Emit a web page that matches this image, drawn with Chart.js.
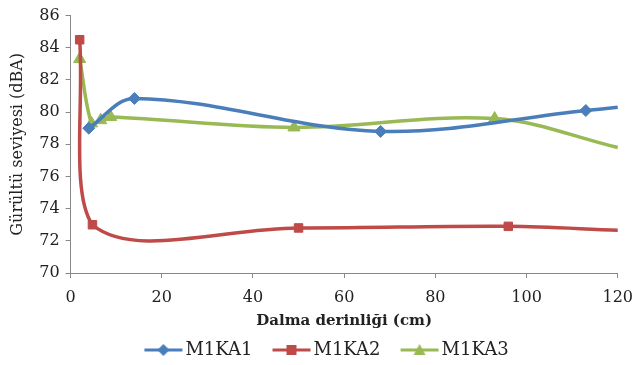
<!DOCTYPE html>
<html>
<head>
<meta charset="utf-8">
<script src="https://cdn.jsdelivr.net/npm/chart.js@4.4.0/dist/chart.umd.min.js"></script>
<style>
  html, body { margin: 0; padding: 0; background: #fff; overflow: hidden; }
  #wrap { width: 633px; height: 365px; position: relative; }
</style>
</head>
<body>
<div id="wrap"><canvas id="noiseChart"></canvas></div>
<script>
// Dalma derinliği (cm) ve gürültü seviyesi (dBA) değerleri
const seriesNames = ['M1KA1', 'M1KA2', 'M1KA3'];

const depthKA1 = [4, 14, 68, 113, 120];
const noiseKA1 = [79.0, 80.85, 78.8, 80.1, 80.3];

const depthKA2 = [2, 4.8, 50, 96, 120];
const noiseKA2 = [84.5, 73.0, 72.8, 72.9, 72.65];

const depthKA3 = [2, 4.6, 6.6, 8.8, 49, 93, 120];
const noiseKA3 = [83.3, 79.3, 79.5, 79.7, 79.05, 79.6, 77.8];

const xTicks = [0, 20, 40, 60, 80, 100, 120];
const yTicks = [70, 72, 74, 76, 78, 80, 82, 84, 86];

const colors = ['#4A7EBB', '#BE4B48', '#98B954'];
const markers = ['rectRot', 'rect', 'triangle'];

function toPoints(xs, ys) {
    return xs.map((x, i) => ({ x: x, y: ys[i] }));
}

// Son noktada işaretçi yok (çizgi sadece uzanıyor)
function radii(n, r) {
    const arr = [];
    for (let i = 0; i < n; i++) arr.push(i === n - 1 ? 0 : r);
    return arr;
}

// Lejant için çizgi + işaretçi görseli (solda boşluk bırakılır)
function legendIcon(color, style) {
    const c = document.createElement('canvas');
    c.width = 74; c.height = 14;
    const g = c.getContext('2d');
    g.strokeStyle = color;
    g.lineWidth = 3;
    g.beginPath(); g.moveTo(31, 7); g.lineTo(69, 7); g.stroke();
    g.fillStyle = color;
    g.beginPath();
    const m = 50;
    if (style === 'rectRot') {
        g.moveTo(m, 1); g.lineTo(m + 6, 7); g.lineTo(m, 13); g.lineTo(m - 6, 7);
    } else if (style === 'rect') {
        g.rect(m - 5, 2, 10, 10);
    } else {
        g.moveTo(m, 1); g.lineTo(m + 6, 12); g.lineTo(m - 6, 12);
    }
    g.closePath(); g.fill();
    return c;
}

const data = [
    toPoints(depthKA1, noiseKA1),
    toPoints(depthKA2, noiseKA2),
    toPoints(depthKA3, noiseKA3)
];
const sizes = [6, 6, 7];

const datasets = data.map((d, i) => ({
    label: seriesNames[i],
    data: d,
    borderColor: colors[i],
    backgroundColor: colors[i],
    borderWidth: 3.5,
    pointStyle: markers[i],
    pointRadius: radii(d.length, sizes[i]),
    pointHoverRadius: radii(d.length, sizes[i]),
    pointBorderWidth: 1,
    tension: 0.35,
    showLine: true,
    clip: false
}));

const fontFam = '"DejaVu Serif", "Liberation Serif", serif';

const ctx = document.getElementById('noiseChart').getContext('2d');
new Chart(ctx, {
    type: 'scatter',
    data: { datasets: datasets },
    options: {
        responsive: true,
        maintainAspectRatio: false,
        animation: false,
        layout: { padding: { left: 0, right: 0, top: 3, bottom: -4 } },
        plugins: {
            tooltip: { enabled: false },
            legend: {
                position: 'bottom',
                labels: {
                    usePointStyle: true,
                    pointStyleWidth: 52,
                    boxHeight: 14,
                    padding: 0,
                    color: '#222',
                    font: { family: fontFam, size: 18 },
                    generateLabels: (chart) => chart.data.datasets.map((ds, i) => ({
                        text: ds.label,
                        pointStyle: legendIcon(colors[i], markers[i]),
                        fillStyle: colors[i],
                        strokeStyle: colors[i],
                        lineWidth: 0,
                        fontColor: '#222',
                        datasetIndex: i,
                        hidden: false
                    }))
                }
            }
        },
        scales: {
            x: {
                type: 'linear',
                min: 0,
                max: 120,
                afterBuildTicks: (axis) => { axis.ticks = xTicks.map(v => ({ value: v })); },
                afterFit: (axis) => { axis.paddingRight = Math.max(0, axis.paddingRight - 16); },
                grid: { display: true, drawOnChartArea: false, drawTicks: true, tickLength: 5, color: '#888' },
                border: { display: true, color: '#888', width: 1 },
                ticks: { color: '#222', font: { family: fontFam, size: 16, lineHeight: 0.5 }, padding: 16, maxRotation: 0 },
                title: {
                    display: true,
                    text: 'Dalma derinliği (cm)',
                    color: '#222',
                    font: { family: fontFam, size: 15, weight: 'bold' },
                    padding: { top: -6, bottom: 11 }
                }
            },
            y: {
                type: 'linear',
                min: 70,
                max: 86,
                afterBuildTicks: (axis) => { axis.ticks = yTicks.map(v => ({ value: v })); },
                grid: { display: true, drawOnChartArea: false, drawTicks: true, tickLength: 5, color: '#888' },
                border: { display: true, color: '#888', width: 1 },
                ticks: { color: '#222', font: { family: fontFam, size: 16 }, padding: 6 },
                title: {
                    display: true,
                    text: 'Gürültü seviyesi (dBA)',
                    color: '#222',
                    font: { family: fontFam, size: 16 },
                    padding: { top: 8, bottom: 6 }
                }
            }
        }
    }
});
</script>
</body>
</html>
